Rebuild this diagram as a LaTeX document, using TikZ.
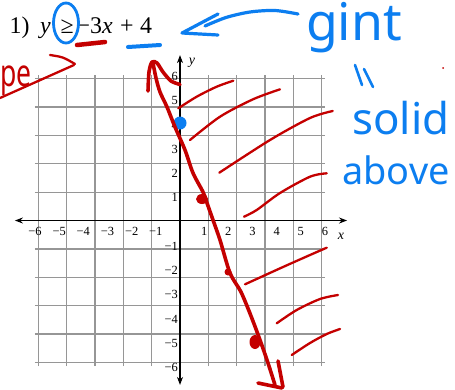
\documentclass[tikz,border=0pt]{standalone}
\usepackage{fontspec}
\setmainfont{Liberation Serif}
\newfontfamily\handfont{Noto Sans}
\usetikzlibrary{arrows.meta}
\definecolor{inkred}{RGB}{196,0,0}
\definecolor{inkblue}{RGB}{12,126,240}
\definecolor{gridgray}{RGB}{150,150,150}
\tikzset{
  gridline/.style={draw=gridgray, line width=1.3bp},
  axisline/.style={draw=black, line width=1.1bp, {Stealth[length=8bp,width=6bp]}-{Stealth[length=8bp,width=6bp]}},
  ticklab/.style={font=\fontsize{12.5}{14}\selectfont, inner sep=0pt},
  axlab/.style={font=\fontsize{14}{16}\selectfont\itshape, inner sep=0pt},
  titlepart/.style={anchor=base west, inner sep=0pt, font=\fontsize{24}{26}\selectfont},
  redpen/.style={draw=inkred, line width=2.3bp, line cap=round, line join=round},
  redthick/.style={redpen, line width=3.6bp},
  bluepen/.style={draw=inkblue, line width=3.2bp, line cap=round, line join=round},
  handtext/.style={font=\handfont\fontsize{#1}{#1}\selectfont, inner sep=0pt},
}
\begin{document}
\begin{tikzpicture}[x=1bp,y=-1bp]
\useasboundingbox (0,0) rectangle (455,389);
\fill[white] (0,0) rectangle (455,389);

% ---- graph paper and axes ----
\begin{scope}[shift={(180,220.5)}, x=24.17bp, y=24.25bp]
  \draw[gridline] (-6,-6) grid (6,6);
  \coordinate (xl) at (-6.83,0);
  \coordinate (xr) at (6.91,0);
  \coordinate (yb) at (0,-6.78);
  \coordinate (yt) at (0,6.82);
  \draw[axisline] (xl) -- (xr);
  \draw[axisline] (yb) -- (yt);
  \foreach \i in {1,...,6} {
    \node[ticklab] (xp\i) at ([yshift=-10.5bp]\i,0) {\i};
    \node[ticklab] (xn\i) at ([yshift=-10.5bp]-\i,0) {−\i};
    \node[ticklab, anchor=east] (yp\i) at ([xshift=-2bp,yshift=-1.5bp]0,\i) {\i};
    \node[ticklab, anchor=east] (yn\i) at ([xshift=-2bp,yshift=-1.5bp]0,-\i) {−\i};
  }
\end{scope}
\node[axlab] (ylab) at (192,63) {y};
\node[axlab] (xlab) at (341,236) {x};

% ---- printed problem ----
\node[titlepart] (num) at (9.5,33) {1)};
\node[titlepart] (tvar) at (40,33) {\textit{y}};
\node[titlepart] (tge) at (60.5,33) {≥};
\node[titlepart] (trhs) at (76.5,33) {−3\textit{x}};
\node[titlepart] (tplus) at (120,33) {+};
\node[titlepart] (tfour) at (140,33) {4};

% ---- blue annotations ----
\draw[bluepen, line width=2.8bp] (66,23) ellipse [x radius=12.5, y radius=20];
\draw[bluepen, line width=4bp] (128,47) -- (160,45);
\draw[bluepen] plot[smooth] coordinates {(298,14) (275,10.5) (250,12) (226,17.5) (205,26)};
\draw[bluepen] (218,14) -- (182,33) -- (218,35);
\node[handtext=52, text=inkblue] (gint) at (354,28) {gint};
\draw[bluepen, line width=2.6bp] (355,65) -- (362,85);
\draw[bluepen, line width=2.6bp] (364,69) -- (373,87);
\node[handtext=44, text=inkblue] (solid) at (401,118) {solid};
\node[handtext=38, text=inkblue] (above) at (396,170) {above};
\fill[inkblue] (180,123) circle [radius=6.5];

% ---- red annotations ----
\node[handtext=38, text=inkred, anchor=base west] (slope) at (0.5,86) {\scalebox{0.7}[1]{pe}};
\draw[redpen] (0,98) -- (74,65);
\draw[redpen] (50,55) .. controls (63,57) .. (75,64);
\draw[redthick, line width=4.5bp] (77,45) -- (105,42);

% main line
\draw[redthick] plot[smooth] coordinates {(148,91) (149,72) (152,62) (157,63) (163,72) (171,81) (180,84.5)};
\draw[redthick] plot[smooth] coordinates {(153,63) (156,78) (160,92) (167,107) (175,127) (185,150) (193,173) (203,192) (207,203) (213,220) (220,240) (230,273) (241,292) (251,316) (260,340) (268,363) (275,385)};
\draw[redthick] (258,383) -- (282,388);
\draw[redthick] (278,361) -- (283,387);
\fill[inkred] (202,199) ellipse [x radius=6, y radius=5];
\fill[inkred] (228,272) circle [radius=3.5];
\fill[inkred] (255,342) ellipse [x radius=5.5, y radius=7];
\fill[inkred] (443,68) circle [radius=1];

% shading strokes
\draw[redpen] plot[smooth] coordinates {(178.3,108.3) (196.7,96.7) (216.7,86.7) (233.3,80.7)};
\draw[redpen] plot[smooth] coordinates {(190,140) (220,116.7) (253,99.3) (280,89.3)};
\draw[redpen] plot[smooth] coordinates {(219.3,172.7) (270,140) (310,118) (332.7,111)};
\draw[redpen] plot[smooth] coordinates {(244,216.7) (256.7,210) (280,193) (310,176.7) (326.7,173.3)};
\draw[redpen] plot[smooth] coordinates {(245,284.3) (283,267) (310,255) (326.7,247.7)};
\draw[redpen] plot[smooth] coordinates {(276.7,323.3) (296.7,310) (320,299) (338,295)};
\draw[redpen] plot[smooth] coordinates {(291.7,355) (310,343) (326.7,334) (340,329)};
\end{tikzpicture}
\end{document}
